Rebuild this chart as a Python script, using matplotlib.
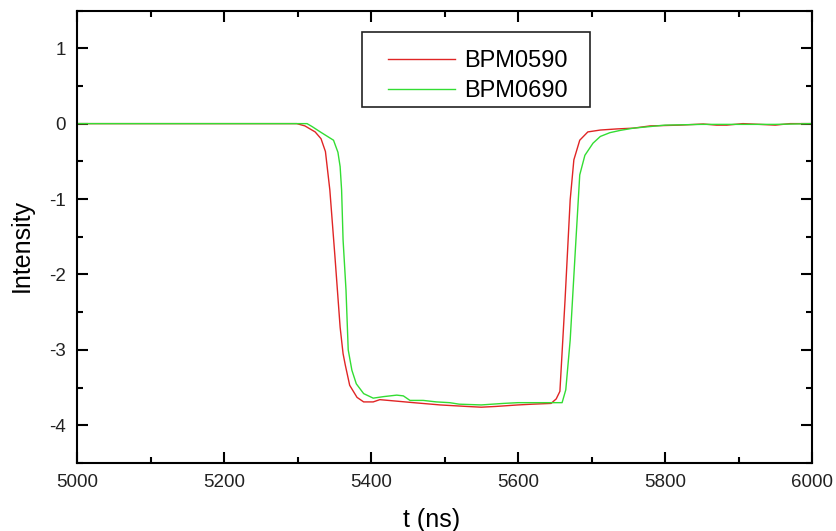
import numpy as np
import matplotlib.pyplot as plt
from matplotlib.ticker import MultipleLocator
from matplotlib.patches import Rectangle

plt.rcParams['font.family'] = ['Liberation Sans', 'DejaVu Sans']
plt.rcParams['axes.unicode_minus'] = False

# BPM0590 (red)
t_590 = [5000, 5299, 5310, 5324, 5332, 5338, 5344, 5351, 5358, 5362, 5365, 5371,
         5381, 5390, 5403, 5412, 5435, 5458, 5494, 5530, 5550, 5570, 5600, 5620,
         5645, 5652, 5657, 5664, 5671, 5676, 5684, 5695, 5712, 5735, 5757, 5780,
         5820, 5852, 5870, 5884, 5906, 5929, 5950, 5970, 6000]
bpm0590 = [0, 0, -0.03, -0.11, -0.20, -0.37, -0.88, -1.77, -2.70, -3.05, -3.20, -3.47,
           -3.63, -3.69, -3.69, -3.66, -3.68, -3.70, -3.73, -3.75, -3.76, -3.75, -3.73, -3.72,
           -3.71, -3.65, -3.55, -2.34, -1.01, -0.48, -0.22, -0.11, -0.085, -0.07, -0.06, -0.03,
           -0.02, -0.005, -0.02, -0.02, 0, -0.01, -0.02, 0, 0]

# BPM0690 (green)
t_690 = [5000, 5313, 5320, 5331, 5349, 5355, 5358, 5360, 5362, 5366, 5369, 5374,
         5380, 5390, 5403, 5417, 5435, 5444, 5453, 5471, 5489, 5507, 5520, 5550,
         5580, 5600, 5630, 5660, 5665, 5671, 5678, 5684, 5691, 5702, 5712, 5725,
         5739, 5757, 5800, 5850, 5900, 5950, 6000]
bpm0690 = [0, 0, -0.04, -0.11, -0.22, -0.38, -0.57, -0.88, -1.54, -2.21, -3.00, -3.27,
           -3.45, -3.58, -3.64, -3.62, -3.60, -3.61, -3.67, -3.67, -3.69, -3.70, -3.72, -3.73,
           -3.71, -3.70, -3.70, -3.70, -3.53, -2.87, -1.68, -0.68, -0.42, -0.26, -0.17, -0.12,
           -0.09, -0.06, -0.02, -0.01, -0.01, -0.01, 0]

W, H = 836, 531
fig = plt.figure(figsize=(W / 100, H / 100), dpi=100)
ax = fig.add_axes([77 / W, (H - 463) / H, 735 / W, 452.5 / H])

ax.plot(t_590, bpm0590, color='#e02525', lw=1.0, label='BPM0590')
ax.plot(t_690, bpm0690, color='#33dd33', lw=1.0, label='BPM0690')

ax.set_xlim(5000, 6000)
ax.set_ylim(-4.5, 1.5)
ax.xaxis.set_major_locator(MultipleLocator(200))
ax.xaxis.set_minor_locator(MultipleLocator(100))
ax.yaxis.set_major_locator(MultipleLocator(1))
ax.yaxis.set_minor_locator(MultipleLocator(0.5))

ax.tick_params(which='both', direction='in', top=True, right=True, width=1.5,
               labelsize=13.5, labelcolor='#222222')
ax.tick_params(which='major', length=8, pad=8)
ax.tick_params(which='minor', length=4.5)
for s in ax.spines.values():
    s.set_linewidth(1.5)

ax.set_xlabel('t (ns)', fontsize=18)
ax.set_ylabel('Intensity', fontsize=18)
ax.xaxis.label.set_va('center')
ax.yaxis.label.set_va('center')
ax.xaxis.set_label_coords(0.482, -0.126)
ax.yaxis.set_label_coords(-0.075, 0.48)

leg = ax.legend(frameon=False, loc='center', fontsize=17,
                bbox_to_anchor=(478 / W, 1 - 76 / H), bbox_transform=fig.transFigure,
                handlelength=2.8, handletextpad=0.4, labelspacing=0.35, borderpad=0)
fig.patches.append(Rectangle((362 / W, 1 - 107 / H), 228 / W, 75 / H,
                             transform=fig.transFigure, fill=False,
                             edgecolor='#222222', lw=1.2))

fig.savefig('out.png', dpi=100)
